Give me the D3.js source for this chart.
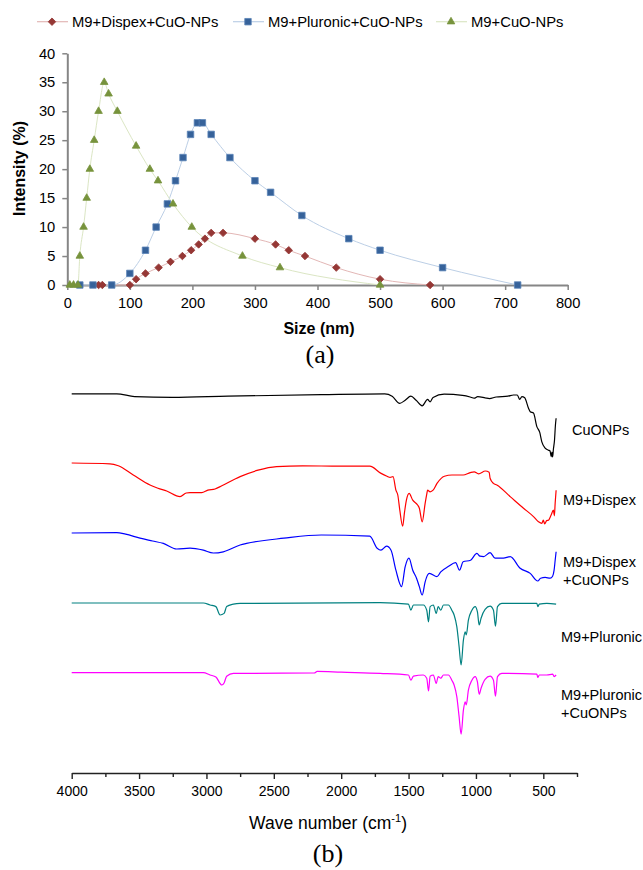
<!DOCTYPE html>
<html>
<head>
<meta charset="utf-8">
<script src="https://cdn.jsdelivr.net/npm/d3@7"></script>
<style>
  html, body { margin: 0; padding: 0; background: #fff; }
  svg { display: block; font-family: "Liberation Sans", Arial, sans-serif; }
</style>
</head>
<body>
<svg id="fig" width="643" height="870"></svg>
<script>
// ---------- (a) Particle size distribution (DLS) ----------
const sizeTicks = [0, 100, 200, 300, 400, 500, 600, 700, 800];
const intensityTicks = [0, 5, 10, 15, 20, 25, 30, 35, 40];

const dispexSize      = [50, 56, 100, 110, 125, 146, 165, 184, 198, 210, 220, 230, 249, 300, 333, 354, 380, 430, 500, 580];
const dispexIntensity = [0, 0, 0, 1, 2, 3, 4, 5, 6, 7, 8, 9, 9, 8, 7, 6, 5, 3, 1, 0];

const pluronicSize      = [20, 41, 71, 100, 125, 142, 160, 173, 185, 197, 208, 216, 230, 260, 300, 325, 375, 450, 500, 600, 720];
const pluronicIntensity = [0, 0, 0, 2, 6, 10, 14, 18, 22, 26, 28, 28, 26, 22, 18, 16, 12, 8, 6, 3, 0];

const cuoSize      = [4, 10, 17, 20, 26, 31, 36, 43, 50, 59, 66, 80, 110, 132, 145, 169, 199, 280, 340, 500];
const cuoIntensity = [0, 0, 0, 5, 10, 15, 20, 25, 30, 35, 33, 30, 24, 20, 18, 14, 10, 5, 3, 0];

const sizeSeriesNames = ["M9+Dispex+CuO-NPs", "M9+Pluronic+CuO-NPs", "M9+CuO-NPs"];

// ---------- (b) FTIR spectra: [wave number (cm-1), transmittance (a.u., stacked)] ----------
const wavenumberTicks = [4000, 3750, 3500, 3250, 3000, 2750, 2500, 2250, 2000, 1750, 1500, 1250, 1000, 750, 500, 250];

const spectrumCuONPs = [
  [4000,94.8],[3666,94.8],[3533,94.1],[3255,93.9],[2840,94.2],[2149,94.6],[1677,94.8],[1622,94.2],
  [1566,92.4],[1525,93.2],[1483,94.2],[1444,93.2],[1399,91.8],[1359,93.4],[1340,92.8],[1318,93.9],
  [1236,94.7],[1100,94.4],[1043,94.0],[1013,93.7],[987,94.1],[932,93.8],[900,93.6],[850,94.0],
  [762,94.2],[722,94.5],[693,94.5],[675,93.4],[659,94.1],[638,93.8],[610,91.2],[597,90.3],
  [573,90.0],[548,86.6],[527,85.2],[511,82.8],[486,81.2],[462,80.7],[450,80.5],[442,79.1],
  [436,80.2],[431,79.0],[425,81.0],[417,83.2],[410,87.0],[405,88.7]
];
const spectrumDispex = [
  [4000,77.5],[3716,77.3],[3654,76.8],[3543,74.5],[3419,72.0],[3360,71.2],[3295,70.5],[3196,69.1],
  [3150,70.0],[3122,70.1],[3035,70.1],[2990,70.7],[2936,71.0],[2886,71.8],[2750,74.1],[2617,75.7],
  [2480,76.6],[2287,76.8],[2009,76.7],[1788,76.7],[1704,74.9],[1660,74.2],[1637,73.9],[1615,74.1],
  [1594,70.7],[1580,69.5],[1565,65.7],[1544,61.7],[1530,65.2],[1516,68.2],[1496,69.9],[1469,68.2],
  [1433,67.0],[1420,66.2],[1399,62.8],[1377,67.4],[1365,69.7],[1359,70.7],[1340,70.3],[1318,70.7],
  [1289,72.4],[1234,74.2],[1178,74.5],[1095,74.5],[1043,75.1],[1013,75.3],[981,74.8],[930,75.5],
  [902,75.2],[895,73.7],[870,72.4],[845,72.0],[746,69.1],[647,66.2],[573,64.1],[536,62.8],
  [511,62.4],[500,63.2],[490,62.3],[475,63.1],[462,63.2],[442,64.5],[425,65.7],[418,64.3],
  [412,67.5],[405,70.7]
];
const spectrumDispexCuONPs = [
  [4000,60.0],[3666,60.1],[3600,59.7],[3493,58.7],[3400,58.0],[3320,57.4],[3221,56.0],[3122,56.2],
  [3023,55.7],[2949,55.0],[2875,55.3],[2750,57.0],[2702,57.4],[2425,58.7],[2148,59.5],[1788,59.2],
  [1733,56.2],[1705,55.7],[1663,56.7],[1630,55.7],[1594,50.7],[1552,46.6],[1525,51.6],[1497,53.7],
  [1469,50.7],[1441,48.7],[1420,46.6],[1399,44.5],[1377,47.8],[1359,49.5],[1345,49.9],[1289,49.1],
  [1261,50.3],[1206,51.6],[1151,52.6],[1122,50.7],[1095,52.8],[1040,53.2],[993,54.9],[970,54.2],
  [943,54.1],[895,55.1],[858,53.7],[796,53.7],[746,54.1],[672,51.2],[597,49.9],[541,48.0],
  [520,48.7],[486,48.9],[449,48.7],[431,49.2],[420,50.7],[412,53.2],[405,55.3]
];
const spectrumPluronic = [
  [4000,42.5],[3023,42.5],[2973,42.0],[2930,41.6],[2899,39.5],[2869,39.9],[2850,41.6],[2800,42.2],
  [2750,42.4],[1711,42.6],[1501,42.2],[1483,40.7],[1464,42.0],[1390,42.0],[1365,40.7],[1352,37.8],
  [1340,41.6],[1316,42.0],[1295,39.9],[1280,41.6],[1261,40.7],[1241,42.0],[1204,42.0],[1179,40.7],
  [1162,39.5],[1142,36.6],[1125,31.6],[1110,27.0],[1093,33.2],[1080,35.3],[1072,34.5],[1056,38.2],
  [1030,40.7],[1006,41.6],[989,40.3],[976,37.0],[962,38.7],[932,40.9],[895,41.7],[870,40.7],
  [855,36.7],[840,41.6],[808,42.4],[548,42.4],[541,41.6],[530,42.2],[474,42.4],[405,42.2]
];
const spectrumPluronicCuONPs = [
  [4000,25.1],[3023,25.1],[2973,24.5],[2930,24.0],[2886,22.0],[2869,22.5],[2850,24.2],[2800,24.9],
  [2200,25.0],[2178,25.4],[2000,25.2],[1711,24.9],[1501,24.5],[1483,23.2],[1464,24.2],[1390,24.5],
  [1365,23.7],[1352,20.5],[1340,24.2],[1316,24.5],[1295,22.4],[1280,24.1],[1261,23.7],[1241,24.5],
  [1204,24.5],[1179,23.2],[1162,22.0],[1142,19.1],[1125,14.1],[1110,9.7],[1093,15.7],[1080,17.8],
  [1072,17.0],[1056,20.7],[1030,23.2],[1006,24.1],[989,22.8],[976,19.7],[962,21.2],[932,23.4],
  [895,24.2],[870,23.2],[855,19.2],[840,24.1],[808,24.9],[548,24.7],[541,23.9],[530,24.5],
  [474,24.5],[430,24.7],[420,24.1],[405,24.5]
];

const spectrumNames = [
  ["CuONPs"],
  ["M9+Dispex"],
  ["M9+Dispex", "+CuONPs"],
  ["M9+Pluronic"],
  ["M9+Pluronic", "+CuONPs"]
];

// ====================== drawing ======================
const svg = d3.select("#fig");
const FONT = "'Liberation Sans', Arial, sans-serif";
const SERIF = "'Liberation Serif', 'Times New Roman', serif";

// ---------- panel (a) ----------
const xA = d3.scaleLinear().domain([0, 800]).range([67.3, 567.7]);
const yA = d3.scaleLinear().domain([0, 40]).range([285, 53.3]);
const gA = svg.append("g");

const axAx = gA.append("g").attr("transform", `translate(0,${yA(0)})`)
  .call(d3.axisBottom(xA).tickValues(sizeTicks).tickSize(5).tickSizeOuter(0).tickPadding(8));
const axAy = gA.append("g").attr("transform", `translate(${xA(0)},0)`)
  .call(d3.axisLeft(yA).tickValues(intensityTicks).tickSize(5).tickSizeOuter(0).tickPadding(7));
[axAx, axAy].forEach(a => {
  a.attr("font-family", FONT).attr("font-size", 14.7);
  a.select(".domain").attr("stroke", "#868686").attr("stroke-width", 2);
  a.selectAll(".tick line").attr("stroke", "#868686").attr("stroke-width", 1.5);
  a.selectAll(".tick text").attr("fill", "#000");
});

gA.append("text").attr("x", 319).attr("y", 334).attr("text-anchor", "middle")
  .attr("font-family", FONT).attr("font-size", 16).attr("font-weight", "bold").text("Size (nm)");
gA.append("text").attr("transform", "translate(25,168.5) rotate(-90)").attr("text-anchor", "middle")
  .attr("font-family", FONT).attr("font-size", 16).attr("font-weight", "bold").text("Intensity (%)");
gA.append("text").attr("x", 320).attr("y", 363).attr("text-anchor", "middle")
  .attr("font-family", SERIF).attr("font-size", 26).text("(a)");

const sizeSeries = [
  { name: sizeSeriesNames[0], x: dispexSize, y: dispexIntensity, fill: "#953735", stroke: "#953735", line: "#e3b7b6", shape: "diamond" },
  { name: sizeSeriesNames[1], x: pluronicSize, y: pluronicIntensity, fill: "#36629a", stroke: "#5a84b8", line: "#bccfe6", shape: "square" },
  { name: sizeSeriesNames[2], x: cuoSize, y: cuoIntensity, fill: "#77933c", stroke: "#77933c", line: "#dbe6c4", shape: "triangle" }
];
const symbolPath = {
  diamond: d3.symbol().type(d3.symbolSquare).size(28)(),
  square: d3.symbol().type(d3.symbolSquare).size(42)(),
  triangle: d3.symbol().type(d3.symbolTriangle).size(25)()
};
const symbolRot = { diamond: 45, square: 0, triangle: 0 };

const lineA = d3.line().curve(d3.curveMonotoneX).x(d => xA(d[0])).y(d => yA(d[1]));
sizeSeries.forEach(s => {
  const pts = s.x.map((v, i) => [v, s.y[i]]);
  gA.append("path").datum(pts).attr("d", lineA).attr("fill", "none")
    .attr("stroke", s.line).attr("stroke-width", 1);
});
sizeSeries.forEach(s => {
  const pts = s.x.map((v, i) => [v, s.y[i]]);
  gA.append("g").selectAll("path").data(pts).join("path")
    .attr("d", symbolPath[s.shape])
    .attr("transform", d => `translate(${xA(d[0])},${yA(d[1])}) rotate(${symbolRot[s.shape]})`)
    .attr("fill", s.fill).attr("stroke", s.stroke).attr("stroke-width", 0.8);
});

// legend
const legendX = [37, 233, 436];
const legend = gA.append("g");
sizeSeries.forEach((s, i) => {
  const x0 = legendX[i], ly = 21.7;
  legend.append("line").attr("x1", x0).attr("x2", x0 + 31).attr("y1", ly).attr("y2", ly)
    .attr("stroke", s.line).attr("stroke-width", 1.2);
  legend.append("path").attr("d", symbolPath[s.shape])
    .attr("transform", `translate(${x0 + 15},${ly}) rotate(${symbolRot[s.shape]})`)
    .attr("fill", s.fill).attr("stroke", s.stroke).attr("stroke-width", 0.8);
  legend.append("text").attr("x", x0 + 35).attr("y", ly + 5.3)
    .attr("font-family", FONT).attr("font-size", 14.8).attr("fill", "#000").text(s.name);
});

// ---------- panel (b) ----------
const xB = d3.scaleLinear().domain([4000, 250]).range([71.7, 577]);
const yB = d3.scaleLinear().domain([0, 100]).range([773, 373]);
const gB = svg.append("g");

const axB = gB.append("g").attr("transform", `translate(0,773)`)
  .call(d3.axisBottom(xB).tickValues(wavenumberTicks).tickSize(6).tickSizeOuter(0).tickPadding(7)
    .tickFormat(d => d % 500 === 0 ? d : ""));
axB.attr("font-family", FONT).attr("font-size", 14);
axB.select(".domain").attr("stroke", "#222").attr("stroke-width", 1.6);
axB.selectAll(".tick line").attr("stroke", "#222").attr("stroke-width", 1.4)
  .attr("y2", d => d % 500 === 0 ? 6 : 4);
axB.selectAll(".tick text").attr("fill", "#000");

const xt = gB.append("text").attr("x", 328).attr("y", 829).attr("text-anchor", "middle")
  .attr("font-family", FONT).attr("font-size", 17.5).attr("fill", "#000");
xt.append("tspan").text("Wave number (cm");
xt.append("tspan").attr("font-size", 11).attr("dy", -7).text("-1");
xt.append("tspan").attr("dy", 7).text(")");

gB.append("text").attr("x", 328).attr("y", 862).attr("text-anchor", "middle")
  .attr("font-family", SERIF).attr("font-size", 26).text("(b)");

const spectra = [spectrumCuONPs, spectrumDispex, spectrumDispexCuONPs, spectrumPluronic, spectrumPluronicCuONPs];
const spectraColors = ["#000000", "#ff0000", "#0000ff", "#008080", "#ff00ff"];
const labelPos = [[572, [435]], [563, [505]], [563, [567, 585]], [561, [642]], [561, [700, 718]]];

const lineB = d3.line().curve(d3.curveMonotoneX).x(d => xB(d[0])).y(d => yB(d[1]));
spectra.forEach((sp, i) => {
  gB.append("path").datum(sp).attr("d", lineB).attr("fill", "none")
    .attr("stroke", spectraColors[i]).attr("stroke-width", 1.2).attr("stroke-linejoin", "round");
  const [lx, lys] = labelPos[i];
  spectrumNames[i].forEach((t, k) => {
    gB.append("text").attr("x", lx).attr("y", lys[k]).attr("font-family", FONT)
      .attr("font-size", 14.5).attr("fill", "#000").text(t);
  });
});
</script>
</body>
</html>
